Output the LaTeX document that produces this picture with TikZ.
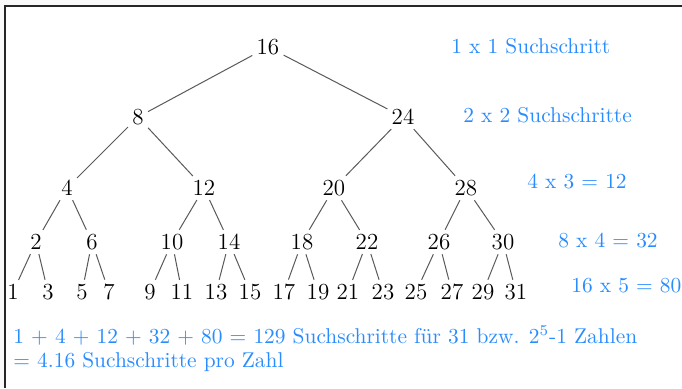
\documentclass[tikz,border=0pt]{standalone}
\usetikzlibrary{positioning}
\definecolor{stepblue}{RGB}{40,140,255}
\definecolor{branchgray}{RGB}{90,90,90}

\begin{document}
\begin{tikzpicture}[x=0.5pt,y=-0.5pt,
  num/.style={font=\fontsize{11.5}{13}\selectfont, inner sep=2pt},
  count/.style={text=stepblue, font=\fontsize{10.7}{13}\selectfont, anchor=west, inner sep=0pt},
  branch/.style={draw=branchgray, line width=0.5pt}]
  \useasboundingbox (0,0) rectangle (682,388);
  \fill[gray!5] (0,0) rectangle (682,388);
  \fill[white] (5,6) rectangle (682,388);
  \draw[black!85, line width=1pt] (5,388) -- (5,6) -- (682,6);

  % root and inner levels
  \node[num] (n16) at (268,47) {16};
  \node[num] (n8) at (138,117) {8};
  \node[num] (n24) at (403,117) {24};
  \node[num] (n4) at (67,188) {4};
  \node[num] (n12) at (204,188) {12};
  \node[num] (n20) at (334,188) {20};
  \node[num] (n28) at (466,188) {28};
  \node[num] (n2) at (36,242) {2};
  \node[num] (n6) at (92,242) {6};
  \node[num] (n10) at (172,242) {10};
  \node[num] (n14) at (229,242) {14};
  \node[num] (n18) at (302,242) {18};
  \node[num] (n22) at (367,242) {22};
  \node[num] (n26) at (439,242) {26};
  \node[num] (n30) at (503,242) {30};

  % leaves
  \node[num] (n1) at (13,292) {1};
  \node[num] (n3) at (48,292) {3};
  \node[num] (n5) at (82,292) {5};
  \node[num] (n7) at (109,292) {7};
  \node[num] (n9) at (150,292) {9};
  \node[num] (n11) at (182,292) {11};
  \node[num] (n13) at (216,292) {13};
  \node[num] (n15) at (250,292) {15};
  \node[num] (n17) at (284,292) {17};
  \node[num] (n19) at (318,292) {19};
  \node[num] (n21) at (348,292) {21};
  \node[num] (n23) at (383,292) {23};
  \node[num] (n25) at (416,292) {25};
  \node[num] (n27) at (452,292) {27};
  \node[num] (n29) at (483,292) {29};
  \node[num] (n31) at (516,292) {31};

  \draw[branch] (n16) -- (n8);
  \draw[branch] (n16) -- (n24);
  \draw[branch] (n8) -- (n4);
  \draw[branch] (n8) -- (n12);
  \draw[branch] (n24) -- (n20);
  \draw[branch] (n24) -- (n28);
  \draw[branch] (n4) -- (n2);
  \draw[branch] (n4) -- (n6);
  \draw[branch] (n12) -- (n10);
  \draw[branch] (n12) -- (n14);
  \draw[branch] (n20) -- (n18);
  \draw[branch] (n20) -- (n22);
  \draw[branch] (n28) -- (n26);
  \draw[branch] (n28) -- (n30);
  \draw[branch] (n2) -- (n1);
  \draw[branch] (n2) -- (n3);
  \draw[branch] (n6) -- (n5);
  \draw[branch] (n6) -- (n7);
  \draw[branch] (n10) -- (n9);
  \draw[branch] (n10) -- (n11);
  \draw[branch] (n14) -- (n13);
  \draw[branch] (n14) -- (n15);
  \draw[branch] (n18) -- (n17);
  \draw[branch] (n18) -- (n19);
  \draw[branch] (n22) -- (n21);
  \draw[branch] (n22) -- (n23);
  \draw[branch] (n26) -- (n25);
  \draw[branch] (n26) -- (n27);
  \draw[branch] (n30) -- (n29);
  \draw[branch] (n30) -- (n31);

  % search steps per level
  \node[count] (s1) at (451,46) {1 x 1 Suchschritt};
  \node[count] (s2) at (463,115) {2 x 2 Suchschritte};
  \node[count] (s3) at (527,181) {4 x 3 = 12};
  \node[count] (s4) at (558,240) {8 x 4 = 32};
  \node[count] (s5) at (571,286) {16 x 5 = 80};
  \node[count] (sum) at (13,335) {1 + 4 + 12 + 32 + 80 = 129 Suchschritte für 31 bzw. 2\textsuperscript{5}-1 Zahlen};
  \node[count] (avg) at (13,362) {= 4.16 Suchschritte pro Zahl};
\end{tikzpicture}
\end{document}
